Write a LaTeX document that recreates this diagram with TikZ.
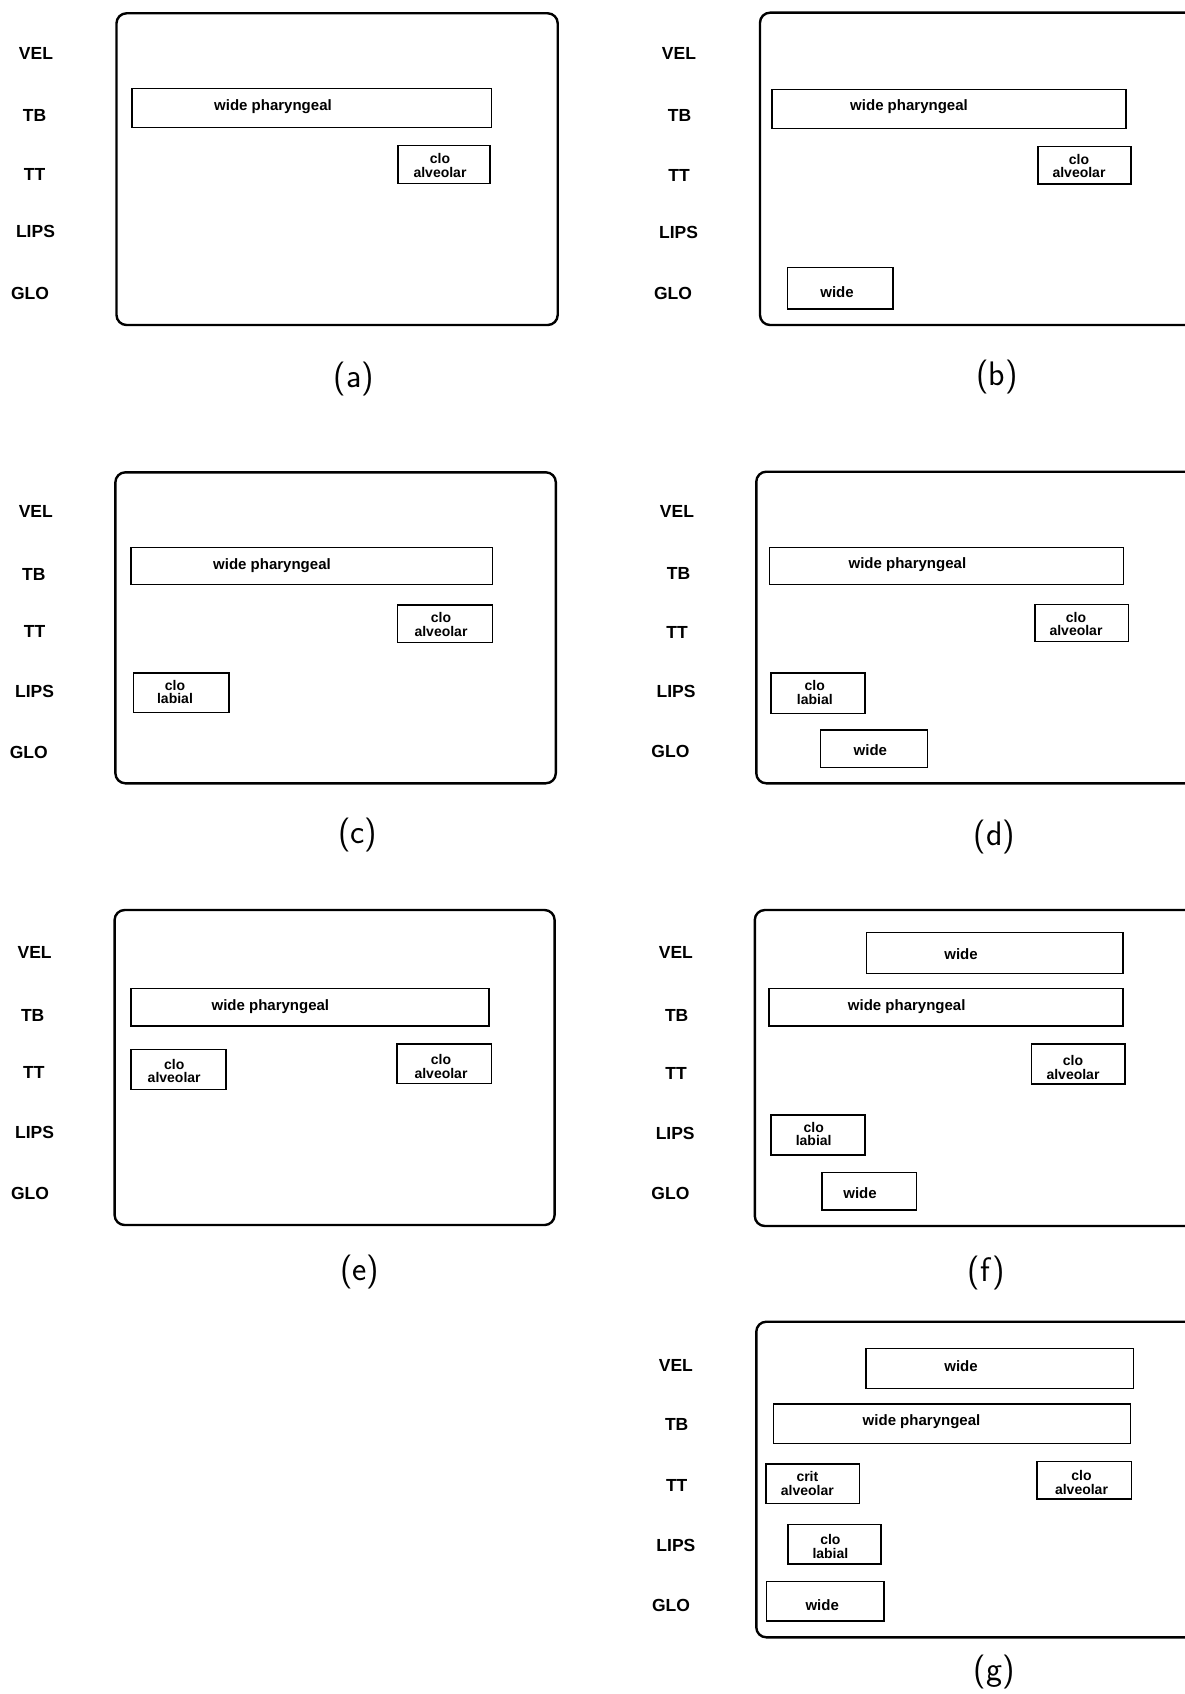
\documentclass[tikz,border=0pt]{standalone}
\usepackage{fontspec}
\newfontfamily\arialf{Liberation Sans}
\newcommand\labfont{\arialf\bfseries\fontsize{17.5}{20}\selectfont}
\newcommand\onefont{\arialf\bfseries\fontsize{15}{17}\selectfont}
\newcommand\twofont{\arialf\bfseries\fontsize{14}{13.5}\selectfont}
\newcommand\capfont{\sffamily\fontsize{34}{36}\selectfont}
\tikzset{
  frm/.style={draw, line width=2.4pt, rounded corners=10pt, rectangle, inner sep=0pt},
  bx/.style={draw, line width=1.5pt, rectangle, inner sep=0pt},
  lab/.style={font=\labfont, inner sep=0pt},
  one/.style={font=\onefont, inner sep=0pt},
  two/.style={font=\twofont, inner sep=0pt, align=center},
  captxt/.style={font=\capfont, inner sep=0pt}
}
\newcommand\aframe[5]{\node[frm, minimum width={(#4-#2)*1pt}, minimum height={(#5-#3)*1pt}] (#1) at ({(#2+#4)/2},{(#3+#5)/2}) {};}
\newcommand\abox[5]{\node[bx, minimum width={(#4-#2)*1pt}, minimum height={(#5-#3)*1pt}] (#1) at ({(#2+#4)/2},{(#3+#5)/2}) {};}
\begin{document}
\begin{tikzpicture}[x=1pt,y=-1pt]
\useasboundingbox (0,0) rectangle (1185,1694);
\clip (0,0) rectangle (1185,1694);
\fill[white] (0,0) rectangle (1185,1694);

% ---------- (a)
\aframe{aF}{116.5}{13.3}{557.7}{325}
\node[lab] (aV) at (36,53) {VEL};
\node[lab] (aTB) at (34.5,115) {TB};
\node[lab] (aTT) at (34.5,174) {TT};
\node[lab] (aL) at (35.5,231.5) {LIPS};
\node[lab] (aG) at (30,293) {GLO};
\abox{aB1}{132}{88.3}{491.5}{127.7}
\node[one] (aT1) at (273,106.5) {wide pharyngeal};
\abox{aB2}{398}{145.7}{490}{183.3}
\node[two] (aT2) at (440,165.5) {clo\\alveolar};
\node[captxt] (aC) at (354,379) {(a)};

% ---------- (b)
\aframe{bF}{760}{12.7}{1200}{325}
\node[lab] (bV) at (679,53) {VEL};
\node[lab] (bTB) at (679.5,115) {TB};
\node[lab] (bTT) at (679,175) {TT};
\node[lab] (bL) at (678.5,232) {LIPS};
\node[lab] (bG) at (673,293) {GLO};
\abox{bB1}{772}{89.3}{1126}{128.3}
\node[one] (bT1) at (909,107) {wide pharyngeal};
\abox{bB2}{1038}{146.7}{1131}{184}
\node[two] (bT2) at (1079,166) {clo\\alveolar};
\abox{bB3}{787.5}{267.7}{893}{309}
\node[one] (bT3) at (837,292) {wide};
\node[captxt] (bC) at (997,377.5) {(b)};

% ---------- (c)
\aframe{cF}{115.4}{472.3}{555.8}{783.3}
\node[lab] (cV) at (35.8,511.7) {VEL};
\node[lab] (cTB) at (33.8,574) {TB};
\node[lab] (cTT) at (34.6,631.7) {TT};
\node[lab] (cL) at (34.6,691.7) {LIPS};
\node[lab] (cG) at (28.8,752.3) {GLO};
\abox{cB1}{131.2}{547.7}{492.3}{584.3}
\node[one] (cT1) at (272,565.7) {wide pharyngeal};
\abox{cB2}{397.7}{605}{492.3}{642.3}
\node[two] (cT2) at (441,624.5) {clo\\alveolar};
\abox{cB3}{133.5}{673}{228.8}{712.7}
\node[two] (cT3) at (175,692) {clo\\labial};
\node[captxt] (cC) at (357.7,835) {(c)};

% ---------- (d)
\aframe{dF}{756.3}{471.7}{1200}{783.3}
\node[lab] (dV) at (677,511) {VEL};
\node[lab] (dTB) at (678.5,573.3) {TB};
\node[lab] (dTT) at (677,632.3) {TT};
\node[lab] (dL) at (676,691.7) {LIPS};
\node[lab] (dG) at (670.4,751.7) {GLO};
\abox{dB1}{769.6}{547.3}{1123.3}{584.3}
\node[one] (dT1) at (907.4,565) {wide pharyngeal};
\abox{dB2}{1035.2}{604.3}{1128.5}{641.7}
\node[two] (dT2) at (1076,624) {clo\\alveolar};
\abox{dB3}{771}{673}{865.2}{713.3}
\node[two] (dT3) at (814.8,692.3) {clo\\labial};
\abox{dB4}{820.4}{730}{927.4}{767.7}
\node[one] (dT4) at (870.4,750.5) {wide};
\node[captxt] (dC) at (994.4,836.7) {(d)};

% ---------- (e)
\aframe{eF}{114.6}{910}{554.6}{1225}
\node[lab] (eV) at (34.6,952.7) {VEL};
\node[lab] (eTB) at (32.7,1015) {TB};
\node[lab] (eTT) at (33.8,1072.7) {TT};
\node[lab] (eL) at (34.6,1132.7) {LIPS};
\node[lab] (eG) at (30,1193.3) {GLO};
\abox{eB1}{130.8}{988.7}{489.2}{1026}
\node[one] (eT1) at (270.4,1006.7) {wide pharyngeal};
\abox{eB2}{130.8}{1049.7}{225.8}{1089.3}
\node[two] (eT2) at (174.2,1071) {clo\\alveolar};
\abox{eB3}{396.9}{1044}{491.5}{1083.7}
\node[two] (eT3) at (441,1066.3) {clo\\alveolar};
\node[captxt] (eC) at (359.6,1271.7) {(e)};

% ---------- (f)
\aframe{fF}{754.8}{910}{1200}{1226}
\node[lab] (fV) at (675.9,952.7) {VEL};
\node[lab] (fTB) at (676.7,1015) {TB};
\node[lab] (fTT) at (676,1073.3) {TT};
\node[lab] (fL) at (675.2,1133.3) {LIPS};
\node[lab] (fG) at (670.4,1193.3) {GLO};
\abox{fB0}{866.7}{932.7}{1123}{973.3}
\node[one] (fT0) at (961,954) {wide};
\abox{fB1}{768.9}{988.3}{1123}{1026}
\node[one] (fT1) at (906.7,1006.7) {wide pharyngeal};
\abox{fB2}{1031.5}{1044}{1125.2}{1084}
\node[two] (fT2) at (1073,1067.5) {clo\\alveolar};
\abox{fB3}{771}{1115}{864.8}{1155}
\node[two] (fT3) at (813.7,1134.2) {clo\\labial};
\abox{fB4}{822.2}{1172.7}{916.3}{1210}
\node[one] (fT4) at (860,1193) {wide};
\node[captxt] (fC) at (986.3,1273.3) {(f)};

% ---------- (g)
\aframe{gF}{756.3}{1321.7}{1200}{1637.3}
\node[lab] (gV) at (675.9,1365) {VEL};
\node[lab] (gTB) at (676.7,1424.3) {TB};
\node[lab] (gTT) at (676.7,1485) {TT};
\node[lab] (gL) at (675.9,1545) {LIPS};
\node[lab] (gG) at (671,1605) {GLO};
\abox{gB0}{866}{1348.3}{1133.3}{1388.3}
\node[one] (gT0) at (961,1366) {wide};
\abox{gB1}{773.7}{1404}{1130.7}{1443.3}
\node[one] (gT1) at (921.5,1421.7) {wide pharyngeal};
\abox{gB2}{766}{1464}{859.6}{1503.3}
\node[two] (gT2) at (807.4,1483.3) {crit\\alveolar};
\abox{gB3}{1037}{1461.7}{1131.5}{1499}
\node[two] (gT3) at (1081.5,1482.5) {clo\\alveolar};
\abox{gB4}{787.8}{1524.3}{881.1}{1564}
\node[two] (gT4) at (830.4,1546.3) {clo\\labial};
\abox{gB5}{766.7}{1581.7}{884}{1621}
\node[one] (gT5) at (822.2,1605) {wide};
\node[captxt] (gC) at (994.4,1672) {(g)};
\end{tikzpicture}
\end{document}
